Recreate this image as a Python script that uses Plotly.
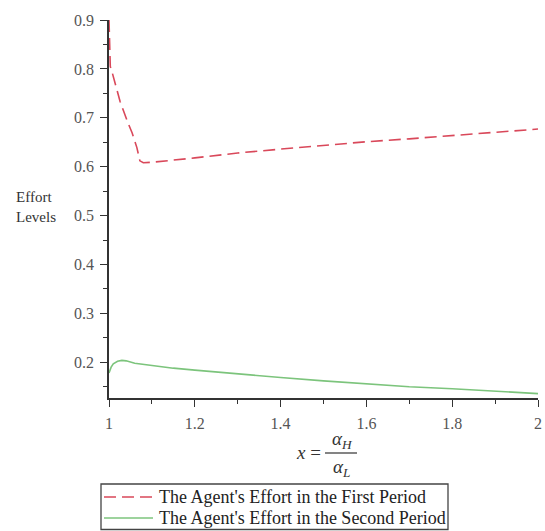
import plotly.graph_objects as go

# First-period effort (red dashed)
x_first = [1.0, 1.001, 1.003, 1.007, 1.019, 1.026, 1.044, 1.054, 1.065, 1.072, 1.08, 1.1, 1.2, 1.3, 1.4, 1.5, 1.6, 1.7, 1.8, 1.9, 2.0]
y_first = [0.90, 0.85, 0.805, 0.794, 0.753, 0.733, 0.690, 0.669, 0.639, 0.612, 0.608, 0.609, 0.618, 0.628, 0.636, 0.644, 0.651, 0.657, 0.664, 0.670, 0.677]

# Second-period effort (green solid)
x_second = [1.0, 1.005, 1.01, 1.02, 1.03, 1.04, 1.06, 1.1, 1.15, 1.2, 1.25, 1.3, 1.4, 1.5, 1.6, 1.7, 1.8, 1.9, 2.0]
y_second = [0.178, 0.190, 0.197, 0.202, 0.204, 0.203, 0.198, 0.193, 0.188, 0.184, 0.180, 0.176, 0.169, 0.162, 0.156, 0.150, 0.146, 0.141, 0.136]

x_ticks = [1, 1.2, 1.4, 1.6, 1.8, 2]
x_tick_labels = ["1", "1.2", "1.4", "1.6", "1.8", "2"]
y_ticks = [0.2, 0.3, 0.4, 0.5, 0.6, 0.7, 0.8, 0.9]
y_tick_labels = ["0.2", "0.3", "0.4", "0.5", "0.6", "0.7", "0.8", "0.9"]

name_first = "The Agent's Effort in the First Period"
name_second = "The Agent's Effort in the Second Period"

FONT = "Liberation Serif"
AXIS_COLOR = "#333333"
RED = "#d9485a"
GREEN = "#7cc47c"

fig = go.Figure()
fig.add_trace(go.Scatter(x=x_first, y=y_first, mode="lines", name=name_first,
                         line=dict(color=RED, width=1.6, dash="12px,6px"),
                         cliponaxis=False, showlegend=False))
fig.add_trace(go.Scatter(x=x_second, y=y_second, mode="lines", name=name_second,
                         line=dict(color=GREEN, width=1.6),
                         cliponaxis=False, showlegend=False))

axis_common = dict(
    showline=True, linecolor=AXIS_COLOR, linewidth=1.5,
    showgrid=False, zeroline=False,
    ticks="outside", ticklen=7, tickwidth=1.3, tickcolor=AXIS_COLOR,
    tickfont=dict(family=FONT, size=16, color="#555555"),
)

fig.update_xaxes(range=[1, 2], tickvals=x_ticks, ticktext=x_tick_labels,
                 ticklabelstandoff=3,
                 minor=dict(dtick=0.1, tick0=1, ticks="outside", ticklen=4,
                            tickcolor=AXIS_COLOR, tickwidth=1.2),
                 **axis_common)
fig.update_yaxes(range=[0.127, 0.9], tickvals=y_ticks, ticktext=y_tick_labels,
                 ticklabelstandoff=3,
                 minor=dict(dtick=0.05, tick0=0.15, ticks="outside", ticklen=4,
                            tickcolor=AXIS_COLOR, tickwidth=1.2),
                 **axis_common)

W, H = 545, 531
ml, mr, mt, mb = 109, 7, 20, 133
pw, ph = W - ml - mr, H - mt - mb


def px(xp):
    return (xp - ml) / pw


def py(yp):
    return (H - mb - yp) / ph


txt = dict(xref="paper", yref="paper", showarrow=False)
annotations = [
    dict(text="Effort<br>Levels", x=px(14), y=py(207), xanchor="left", yanchor="middle",
         align="left", font=dict(family=FONT, size=15, color="#333333"), **txt),
    dict(text="<i>x</i> =", x=px(308), y=py(452), xanchor="center", yanchor="middle",
         font=dict(family=FONT, size=19, color="#333333"), **txt),
    dict(text="<i>α<sub>H</sub></i>", x=px(342), y=py(440), xanchor="center", yanchor="middle",
         font=dict(family=FONT, size=19, color="#333333"), **txt),
    dict(text="<i>α<sub>L</sub></i>", x=px(341), y=py(468), xanchor="center", yanchor="middle",
         font=dict(family=FONT, size=19, color="#333333"), **txt),
    # legend texts
    dict(text=name_first, x=px(157), y=py(497), xanchor="left", yanchor="middle",
         font=dict(family=FONT, size=18, color="#222222"), **txt),
    dict(text=name_second, x=px(157), y=py(518), xanchor="left", yanchor="middle",
         font=dict(family=FONT, size=18, color="#222222"), **txt),
]

shapes = [
    # fraction bar
    dict(type="line", xref="paper", yref="paper", x0=px(325), x1=px(357),
         y0=py(453), y1=py(453), line=dict(color="#333333", width=1.2)),
    # legend box
    dict(type="rect", xref="paper", yref="paper", x0=px(101), x1=px(448),
         y0=py(484), y1=py(529.5), line=dict(color="#444444", width=1.3),
         fillcolor="rgba(0,0,0,0)"),
    # legend samples
    dict(type="line", xref="paper", yref="paper", x0=px(104), x1=px(153),
         y0=py(497), y1=py(497), line=dict(color=RED, width=1.6, dash="12px,6px")),
    dict(type="line", xref="paper", yref="paper", x0=px(104), x1=px(153),
         y0=py(518), y1=py(518), line=dict(color=GREEN, width=1.6)),
]

fig.update_layout(
    width=W, height=H,
    margin=dict(l=ml, r=mr, t=mt, b=mb, autoexpand=False),
    paper_bgcolor="white", plot_bgcolor="white",
    annotations=annotations, shapes=shapes,
    showlegend=False,
)

fig.write_html("out.html")
